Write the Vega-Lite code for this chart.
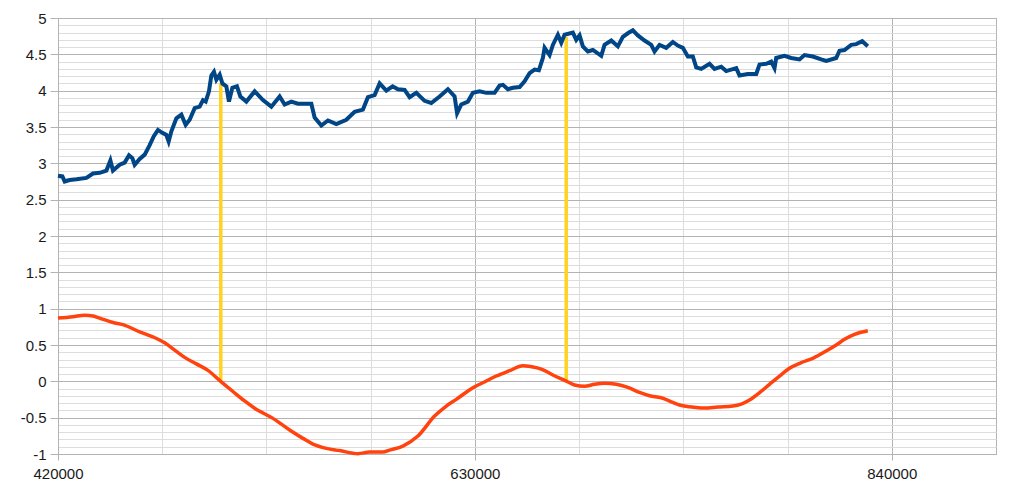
{
  "$schema": "https://vega.github.io/schema/vega-lite/v6.json",
  "autosize": "none",
  "width": 938,
  "height": 436,
  "padding": {"left": 58, "top": 18, "right": 21, "bottom": 38},
  "background": "#ffffff",
  "config": {
    "view": {"stroke": "#b3b3b3", "strokeWidth": 1},
    "font": "Liberation Sans"
  },
  "datasets": {
    "blue": [
      {"x":420000,"y":2.83},{"x":422216,"y":2.82},{"x":423374,"y":2.75},{"x":425892,"y":2.77},{"x":429266,"y":2.78},
      {"x":434302,"y":2.80},{"x":437626,"y":2.86},{"x":441000,"y":2.87},{"x":444374,"y":2.90},{"x":446389,"y":3.04},
      {"x":447698,"y":2.90},{"x":451072,"y":2.98},{"x":453590,"y":3.01},{"x":455756,"y":3.11},{"x":457468,"y":3.07},
      {"x":458626,"y":2.98},{"x":461144,"y":3.06},{"x":463662,"y":3.12},{"x":466180,"y":3.25},{"x":468195,"y":3.37},
      {"x":470360,"y":3.46},{"x":472576,"y":3.42},{"x":474590,"y":3.39},{"x":475748,"y":3.30},{"x":477108,"y":3.44},
      {"x":479626,"y":3.62},{"x":482144,"y":3.67},{"x":484310,"y":3.53},{"x":486324,"y":3.60},{"x":488842,"y":3.76},
      {"x":491360,"y":3.78},{"x":493022,"y":3.87},{"x":494382,"y":3.85},{"x":496044,"y":3.99},{"x":497252,"y":4.21},
      {"x":498562,"y":4.26},{"x":499770,"y":4.15},{"x":501432,"y":4.22},{"x":502792,"y":4.10},{"x":504806,"y":4.06},
      {"x":506116,"y":3.85},{"x":507828,"y":4.04},{"x":510144,"y":4.06},{"x":511857,"y":3.92},{"x":514878,"y":3.85},
      {"x":519058,"y":3.99},{"x":523238,"y":3.87},{"x":527468,"y":3.78},{"x":531648,"y":3.92},{"x":534166,"y":3.81},
      {"x":537540,"y":3.85},{"x":540864,"y":3.82},{"x":547612,"y":3.82},{"x":549274,"y":3.63},{"x":552648,"y":3.52},
      {"x":555972,"y":3.59},{"x":560202,"y":3.54},{"x":565238,"y":3.60},{"x":569418,"y":3.71},{"x":573598,"y":3.74},
      {"x":576116,"y":3.91},{"x":579490,"y":3.94},{"x":582008,"y":4.10},{"x":585382,"y":4.00},{"x":588555,"y":4.06},
      {"x":591224,"y":4.02},{"x":594598,"y":4.01},{"x":597116,"y":3.91},{"x":600490,"y":3.97},{"x":604670,"y":3.86},
      {"x":608044,"y":3.83},{"x":612224,"y":3.92},{"x":616404,"y":4.02},{"x":619778,"y":3.92},{"x":621037,"y":3.69},
      {"x":623152,"y":3.81},{"x":626476,"y":3.85},{"x":628994,"y":3.97},{"x":632368,"y":3.99},{"x":635742,"y":3.97},
      {"x":639921,"y":3.97},{"x":642440,"y":4.07},{"x":644101,"y":4.08},{"x":646620,"y":4.02},{"x":649138,"y":4.04},
      {"x":652512,"y":4.05},{"x":655030,"y":4.13},{"x":657548,"y":4.24},{"x":660066,"y":4.29},{"x":662232,"y":4.28},
      {"x":664246,"y":4.45},{"x":665102,"y":4.59},{"x":667620,"y":4.49},{"x":669282,"y":4.63},{"x":671800,"y":4.77},
      {"x":673512,"y":4.66},{"x":675174,"y":4.77},{"x":679354,"y":4.80},{"x":681066,"y":4.70},{"x":682728,"y":4.76},
      {"x":684390,"y":4.61},{"x":686908,"y":4.54},{"x":689426,"y":4.56},{"x":693656,"y":4.48},{"x":695318,"y":4.63},
      {"x":698692,"y":4.69},{"x":702016,"y":4.61},{"x":704534,"y":4.74},{"x":707052,"y":4.79},{"x":709570,"y":4.83},
      {"x":712088,"y":4.76},{"x":715462,"y":4.69},{"x":718836,"y":4.63},{"x":720498,"y":4.54},{"x":723016,"y":4.63},
      {"x":726390,"y":4.59},{"x":729714,"y":4.67},{"x":732232,"y":4.62},{"x":734750,"y":4.59},{"x":737268,"y":4.47},
      {"x":739786,"y":4.47},{"x":741499,"y":4.32},{"x":744016,"y":4.30},{"x":748196,"y":4.37},{"x":750714,"y":4.30},
      {"x":754088,"y":4.33},{"x":756606,"y":4.27},{"x":761642,"y":4.31},{"x":763304,"y":4.21},{"x":767484,"y":4.23},
      {"x":771714,"y":4.23},{"x":773376,"y":4.36},{"x":776750,"y":4.37},{"x":779268,"y":4.40},{"x":780930,"y":4.31},
      {"x":781786,"y":4.45},{"x":785966,"y":4.48},{"x":789340,"y":4.45},{"x":793520,"y":4.43},{"x":796038,"y":4.49},
      {"x":800218,"y":4.47},{"x":804448,"y":4.43},{"x":806966,"y":4.41},{"x":812002,"y":4.45},{"x":813664,"y":4.55},
      {"x":816182,"y":4.56},{"x":819556,"y":4.63},{"x":822074,"y":4.64},{"x":825096,"y":4.68},{"x":827916,"y":4.61}
    ],
    "orange": [
      {"x":420000,"y":0.87},{"x":427554,"y":0.89},{"x":433446,"y":0.91},{"x":437626,"y":0.90},{"x":441000,"y":0.87},
      {"x":447698,"y":0.81},{"x":452734,"y":0.78},{"x":461144,"y":0.68},{"x":469554,"y":0.59},{"x":473734,"y":0.53},
      {"x":478770,"y":0.43},{"x":483806,"y":0.33},{"x":489698,"y":0.24},{"x":495540,"y":0.15},{"x":501936,"y":0.0},
      {"x":508130,"y":-0.14},{"x":514022,"y":-0.27},{"x":519058,"y":-0.37},{"x":528274,"y":-0.51},{"x":536684,"y":-0.67},
      {"x":543382,"y":-0.785},{"x":548418,"y":-0.864},{"x":555166,"y":-0.923},{"x":561864,"y":-0.953},{"x":571080,"y":-0.995},
      {"x":576972,"y":-0.974},{"x":583670,"y":-0.974},{"x":587044,"y":-0.947},{"x":593742,"y":-0.891},{"x":601296,"y":-0.753},
      {"x":609706,"y":-0.478},{"x":615598,"y":-0.34},{"x":620634,"y":-0.248},{"x":628994,"y":-0.088},{"x":635742,"y":0.004},
      {"x":640778,"y":0.073},{"x":647476,"y":0.146},{"x":654174,"y":0.215},{"x":658404,"y":0.201},{"x":663440,"y":0.169},
      {"x":669282,"y":0.087},{"x":676030,"y":0.004},{"x":680209,"y":-0.051},{"x":685245,"y":-0.069},{"x":690281,"y":-0.041},
      {"x":695318,"y":-0.028},{"x":701210,"y":-0.041},{"x":707052,"y":-0.083},{"x":712944,"y":-0.152},{"x":717980,"y":-0.198},
      {"x":723872,"y":-0.226},{"x":729714,"y":-0.289},{"x":733090,"y":-0.326},{"x":738126,"y":-0.35},{"x":745680,"y":-0.368},
      {"x":752378,"y":-0.354},{"x":759932,"y":-0.34},{"x":764162,"y":-0.313},{"x":768345,"y":-0.258},{"x":773381,"y":-0.157},
      {"x":778417,"y":-0.041},{"x":783453,"y":0.073},{"x":788489,"y":0.179},{"x":794381,"y":0.256},{"x":800222,"y":0.317},
      {"x":806970,"y":0.417},{"x":812006,"y":0.5},{"x":816186,"y":0.578},{"x":821222,"y":0.647},{"x":827920,"y":0.697}
    ],
    "markers": [
      {"x":502000,"y0":0,"y1":4.10},
      {"x":676000,"y0":0,"y1":4.74}
    ]
  },
  "layer": [
    {
      "data": {"name": "markers"},
      "mark": {"type": "rule", "color": "#ffd320", "strokeWidth": 3.5},
      "encoding": {
        "x": {
          "field": "x", "type": "quantitative",
          "scale": {"domain": [420000, 892500], "nice": false, "zero": false},
          "axis": {
            "title": null,
            "values": [420000,472500,525000,577500,630000,682500,735000,787500,840000,892500],
            "tickCount": 100,
            "format": "d",
            "labelExpr": "datum.value % 210000 === 0 ? datum.label : ''",
            "grid": true,
            "gridColor": {"condition": {"test": "datum.value % 210000 === 0 || datum.value === 892500", "value": "#b3b3b3"}, "value": "#dddddd"},
            "gridWidth": 1,
            "tickColor": {"condition": {"test": "datum.value % 210000 === 0", "value": "#b3b3b3"}, "value": "rgba(0,0,0,0)"},
            "tickSize": 6,
            "domainColor": "#b3b3b3",
            "labelFont": "Liberation Sans",
            "labelFontSize": 15,
            "labelColor": "#1a1a1a",
            "labelPadding": 6,
            "labelFlush": false,
            "labelOverlap": false
          }
        },
        "y": {
          "field": "y0", "type": "quantitative",
          "scale": {"domain": [-1, 5], "nice": false, "zero": false},
          "axis": {
            "title": null,
            "values": [-1,-0.9,-0.8,-0.7,-0.6,-0.5,-0.4,-0.3,-0.2,-0.1,0,0.1,0.2,0.3,0.4,0.5,0.6,0.7,0.8,0.9,1,1.1,1.2,1.3,1.4,1.5,1.6,1.7,1.8,1.9,2,2.1,2.2,2.3,2.4,2.5,2.6,2.7,2.8,2.9,3,3.1,3.2,3.3,3.4,3.5,3.6,3.7,3.8,3.9,4,4.1,4.2,4.3,4.4,4.5,4.6,4.7,4.8,4.9,5],
            "tickCount": 100,
            "labelExpr": "abs(datum.value*2 - round(datum.value*2)) < 0.000001 ? ('' + datum.value) : ''",
            "grid": true,
            "gridColor": {"condition": {"test": "abs(datum.value*2 - round(datum.value*2)) < 0.000001", "value": "#b3b3b3"}, "value": "#dddddd"},
            "gridWidth": 1,
            "tickColor": {"condition": {"test": "abs(datum.value*2 - round(datum.value*2)) < 0.000001", "value": "#b3b3b3"}, "value": "rgba(0,0,0,0)"},
            "tickSize": 8,
            "domainColor": "#b3b3b3",
            "labelFont": "Liberation Sans",
            "labelFontSize": 15,
            "labelColor": "#1a1a1a",
            "labelPadding": 4,
            "labelFlush": false,
            "labelOverlap": false
          }
        },
        "y2": {"field": "y1"}
      }
    },
    {
      "data": {"name": "orange"},
      "mark": {"type": "line", "color": "#ff420e", "strokeWidth": 3.5, "interpolate": "monotone"},
      "encoding": {
        "x": {"field": "x", "type": "quantitative"},
        "y": {"field": "y", "type": "quantitative"}
      }
    },
    {
      "data": {"name": "blue"},
      "mark": {"type": "line", "color": "#004586", "strokeWidth": 4},
      "encoding": {
        "x": {"field": "x", "type": "quantitative"},
        "y": {"field": "y", "type": "quantitative"}
      }
    }
  ]
}
